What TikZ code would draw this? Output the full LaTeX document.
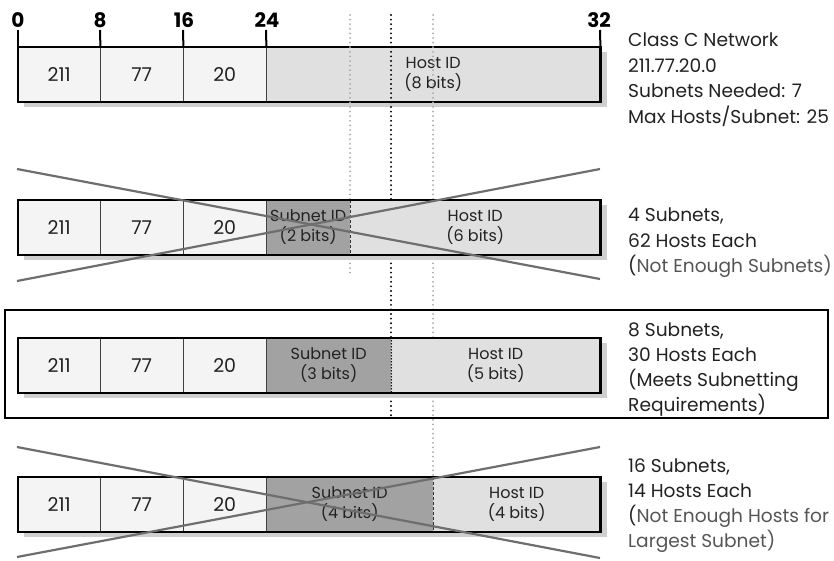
\documentclass[tikz,border=0pt]{standalone}
\usepackage{fontspec}
\setmainfont{Poppins}
\definecolor{lightc}{HTML}{F4F4F4}
\definecolor{hostc}{HTML}{E0E0E0}
\definecolor{subc}{HTML}{A2A2A2}
\definecolor{shadc}{HTML}{CFCFCF}
\definecolor{crossc}{HTML}{6E6E6E}
\definecolor{dotgray}{HTML}{A8A8A8}
\definecolor{inkc}{HTML}{222222}
\definecolor{notec}{HTML}{555555}
\begin{document}
\begin{tikzpicture}[x=1pt,y=-1pt,
  fld/.style={draw=none,minimum height=55,inner sep=0pt,anchor=west,text=inkc,font=\fontsize{19}{20}\selectfont},
  idtext/.style={fld,align=center,font=\fontsize{16}{20}\selectfont},
  divider/.style={draw=black!75,line width=1pt},
  outline/.style={draw=black,line width=2.2pt},
  shadowbox/.style={fill=shadc},
  tick/.style={draw=black,line width=2pt},
  ticklabel/.style={inner sep=0pt,anchor=base,font=\fontsize{20}{20}\selectfont\bfseries,text=black},
  note/.style={inner sep=0pt,anchor=north west,align=left,text=inkc,font=\fontsize{18.6}{25.5}\selectfont},
  graydots/.style={draw=dotgray,line width=2pt,line cap=round,dash pattern=on 0pt off 4.6pt},
  blackdots/.style={draw=black,line width=2.1pt,line cap=round,dash pattern=on 0pt off 4.6pt},
  cross/.style={draw=crossc,line width=2.2pt},
  bounddash/.style={draw=black!80,line width=0.9pt,dash pattern=on 3pt off 2pt}
]
\useasboundingbox (0,0) rectangle (834,560);

% ---------------- Row 1 ----------------
\fill[shadowbox] (24,52) rectangle (607,107);
\node[fld,fill=lightc,minimum width=82] (r1a) at (18,74.5) {211};
\node[fld,fill=lightc,minimum width=83] (r1b) at (100,74.5) {77};
\node[fld,fill=lightc,minimum width=83] (r1c) at (183,74.5) {20};
\node[idtext,fill=hostc,minimum width=334] (r1d) at (266,74.5) {Host ID\\(8 bits)};
\draw[divider] (r1a.north east) -- (r1a.south east);
\draw[divider] (r1b.north east) -- (r1b.south east);
\draw[divider] (r1c.north east) -- (r1c.south east);
\draw[outline] (r1a.north west) rectangle (r1d.south east);
% ticks
\coordinate (t0) at (18,30);
\coordinate (t8) at (100,30);
\coordinate (t16) at (183,30);
\coordinate (t24) at (266,30);
\coordinate (t32) at (600,30);
\draw[tick] (t0) -- (r1a.north west);
\draw[tick] (t8) -- (r1a.north east);
\draw[tick] (t16) -- (r1b.north east);
\draw[tick] (t24) -- (r1c.north east);
\draw[tick] (t32) -- (r1d.north east);
\node[ticklabel] (l0) at (18,27) {0};
\node[ticklabel] (l8) at (100,27) {8};
\node[ticklabel] (l16) at (184,27) {16};
\node[ticklabel] (l24) at (267,27) {24};
\node[ticklabel] (l32) at (599,27) {32};
\node[note] (n1) at (628,33) {Class C Network\\211.77.20.0\\Subnets Needed: 7\\Max Hosts/Subnet: 25};

% ---------------- dotted guide lines ----------------
\coordinate (g1a) at (350,15);
\coordinate (g1b) at (350,275);
\coordinate (g2a) at (391,15);
\coordinate (g2b) at (391,416);
\coordinate (g3a) at (433,15);
\coordinate (g3b) at (433,538);
\draw[graydots] (g1a) -- (g1b);
\draw[blackdots] (g2a) -- (g2b);
\draw[graydots] (g3a) -- (g3b);

% ---------------- Row 2 ----------------
\fill[shadowbox] (24,205) rectangle (607,260);
\node[fld,fill=lightc,minimum width=82] (r2a) at (18,227.5) {211};
\node[fld,fill=lightc,minimum width=83] (r2b) at (100,227.5) {77};
\node[fld,fill=lightc,minimum width=83] (r2c) at (183,227.5) {20};
\node[idtext,fill=subc,minimum width=84] (r2d) at (266,227.5) {Subnet ID\\(2 bits)};
\node[idtext,fill=hostc,minimum width=250] (r2e) at (350,227.5) {Host ID\\(6 bits)};
\draw[divider] (r2a.north east) -- (r2a.south east);
\draw[divider] (r2b.north east) -- (r2b.south east);
\draw[divider] (r2c.north east) -- (r2c.south east);
\draw[bounddash] (r2d.north east) -- (r2d.south east);
\draw[outline] (r2a.north west) rectangle (r2e.south east);
\coordinate (x2a) at (17,169);
\coordinate (x2b) at (600,279);
\coordinate (x2c) at (17,281);
\coordinate (x2d) at (600,169);
\draw[cross] (x2a) -- (x2b);
\draw[cross] (x2c) -- (x2d);
\node[note] (n2) at (628,208) {4 Subnets,\\62 Hosts Each\\(\textcolor{notec}{Not Enough Subnets)}};

% ---------------- Row 3 ----------------
\draw[line width=2pt,draw=black] (5,310) rectangle (828,418);
\fill[shadowbox] (24,343) rectangle (607,398);
\node[fld,fill=lightc,minimum width=82] (r3a) at (18,365.5) {211};
\node[fld,fill=lightc,minimum width=83] (r3b) at (100,365.5) {77};
\node[fld,fill=lightc,minimum width=83] (r3c) at (183,365.5) {20};
\node[idtext,fill=subc,minimum width=125] (r3d) at (266,365.5) {Subnet ID\\(3 bits)};
\node[idtext,fill=hostc,minimum width=209] (r3e) at (391,365.5) {Host ID\\(5 bits)};
\draw[divider] (r3a.north east) -- (r3a.south east);
\draw[divider] (r3b.north east) -- (r3b.south east);
\draw[divider] (r3c.north east) -- (r3c.south east);
\draw[blackdots,line width=1.6pt,dash pattern=on 0pt off 3pt] (r3d.north east) -- (r3d.south east);
\draw[outline] (r3a.north west) rectangle (r3e.south east);
\node[note,font=\fontsize{18.6}{25}\selectfont] (n3) at (628,323) {8 Subnets,\\30 Hosts Each\\(Meets Subnetting\\Requirements)};

% ---------------- Row 4 ----------------
\fill[shadowbox] (24,482) rectangle (607,537);
\node[fld,fill=lightc,minimum width=82] (r4a) at (18,504.5) {211};
\node[fld,fill=lightc,minimum width=83] (r4b) at (100,504.5) {77};
\node[fld,fill=lightc,minimum width=83] (r4c) at (183,504.5) {20};
\node[idtext,fill=subc,minimum width=167] (r4d) at (266,504.5) {Subnet ID\\(4 bits)};
\node[idtext,fill=hostc,minimum width=167] (r4e) at (433,504.5) {Host ID\\(4 bits)};
\draw[divider] (r4a.north east) -- (r4a.south east);
\draw[divider] (r4b.north east) -- (r4b.south east);
\draw[divider] (r4c.north east) -- (r4c.south east);
\draw[bounddash] (r4d.north east) -- (r4d.south east);
\draw[outline] (r4a.north west) rectangle (r4e.south east);
\coordinate (x4a) at (17,447);
\coordinate (x4b) at (600,558);
\coordinate (x4c) at (17,557);
\coordinate (x4d) at (600,447);
\draw[cross] (x4a) -- (x4b);
\draw[cross] (x4c) -- (x4d);
\node[note,font=\fontsize{18.6}{25}\selectfont] (n4) at (628,459) {16 Subnets,\\14 Hosts Each\\(\textcolor{notec}{Not Enough Hosts for}\\\textcolor{notec}{Largest Subnet)}};
\end{tikzpicture}
\end{document}
